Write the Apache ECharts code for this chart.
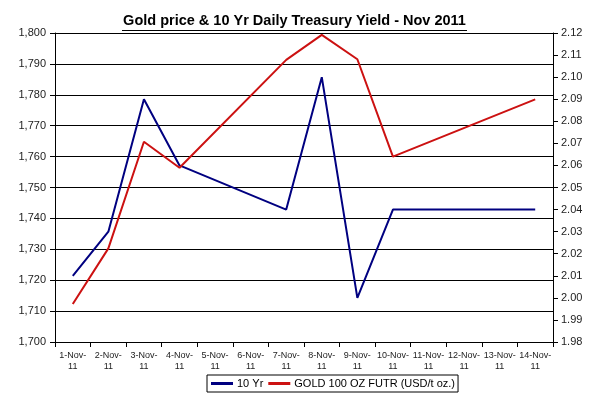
<!DOCTYPE html>
<html>
<head>
<meta charset="utf-8">
<script src="https://cdn.jsdelivr.net/npm/echarts@6/dist/echarts.min.js"></script>
<style>html,body{margin:0;padding:0;background:#fff;}#c{width:589px;height:394px;}</style>
</head>
<body>
<div id="c"></div>
<script>
var categories = ['1-Nov-11','2-Nov-11','3-Nov-11','4-Nov-11','5-Nov-11','6-Nov-11','7-Nov-11','8-Nov-11','9-Nov-11','10-Nov-11','11-Nov-11','12-Nov-11','13-Nov-11','14-Nov-11'];
var yield10 = [2.01, 2.03, 2.09, 2.06, null, null, 2.04, 2.10, 2.00, 2.04, null, null, null, 2.04];
var goldPrice = [1712.3, 1730.3, 1764.8, 1756.4, null, null, 1791.3, 1799.4, 1791.5, 1760.0, null, null, null, 1778.5];
var leftTicks = {min: 1700, max: 1800, interval: 10};
var rightTicks = {min: 1.98, max: 2.12, interval: 0.01};
var seriesNames = ['10 Yr', 'GOLD 100 OZ FUTR (USD/t oz.)'];

var FONT = '"Liberation Sans", Arial, sans-serif';
var chart = echarts.init(document.getElementById('c'), null, {renderer: 'canvas'});
chart.setOption({
  animation: false,
  backgroundColor: '#fff',
  title: {
    text: 'Gold price & 10 Yr Daily Treasury Yield - Nov 2011',
    left: 'center', top: 13, padding: 0,
    textStyle: {fontFamily: FONT, fontSize: 14.5, fontWeight: 'bold', color: '#000'}
  },
  graphic: [{
    type: 'line', shape: {x1: 122, y1: 30.5, x2: 467, y2: 30.5},
    style: {stroke: '#000', lineWidth: 1}
  }],
  legend: {
    left: 207, top: 375,
    padding: [3, 3, 3, 4],
    borderColor: '#000', borderWidth: 1,
    itemWidth: 22, itemHeight: 3, itemGap: 5,
    icon: 'rect',
    textStyle: {fontFamily: FONT, fontSize: 11, color: '#000', padding: [0, 0, 0, -1]},
    data: seriesNames
  },
  grid: {left: 55, right: 36, top: 33, bottom: 52, containLabel: false},
  xAxis: {
    type: 'category',
    data: categories,
    boundaryGap: true,
    axisLine: {lineStyle: {color: '#000', width: 1}},
    axisTick: {show: true, interval: 0, length: 5, lineStyle: {color: '#000'}},
    axisLabel: {
      interval: 0, fontFamily: FONT, fontSize: 9, color: '#222', lineHeight: 11, margin: 8,
      formatter: function (v) { var i = v.lastIndexOf('-'); return v.slice(0, i + 1) + '\n' + v.slice(i + 1); }
    },
    splitLine: {show: false}
  },
  yAxis: [{
    type: 'value', position: 'left',
    min: leftTicks.min, max: leftTicks.max, interval: leftTicks.interval,
    axisLine: {show: true, lineStyle: {color: '#000'}},
    axisTick: {show: true, length: 5, lineStyle: {color: '#000'}},
    axisLabel: {fontFamily: FONT, fontSize: 11, color: '#222', margin: 9,
      formatter: function (v) { return v.toLocaleString('en-US'); }},
    splitLine: {show: true, lineStyle: {color: '#000', width: 1}}
  }, {
    type: 'value', position: 'right',
    min: rightTicks.min, max: rightTicks.max, interval: rightTicks.interval,
    axisLine: {show: true, lineStyle: {color: '#000'}},
    axisTick: {show: true, length: 5, lineStyle: {color: '#000'}},
    axisLabel: {fontFamily: FONT, fontSize: 11, color: '#222', margin: 8,
      formatter: function (v) { return v.toFixed(2); }},
    splitLine: {show: false}
  }],
  series: [{
    name: seriesNames[0], type: 'line', yAxisIndex: 1,
    data: yield10, connectNulls: true, showSymbol: false, symbol: 'none',
    itemStyle: {color: '#000080'},
    lineStyle: {color: '#000080', width: 2}
  }, {
    name: seriesNames[1], type: 'line', yAxisIndex: 0,
    data: goldPrice, connectNulls: true, showSymbol: false, symbol: 'none',
    itemStyle: {color: '#CC1111'},
    lineStyle: {color: '#CC1111', width: 2}
  }]
});
</script>
</body>
</html>
